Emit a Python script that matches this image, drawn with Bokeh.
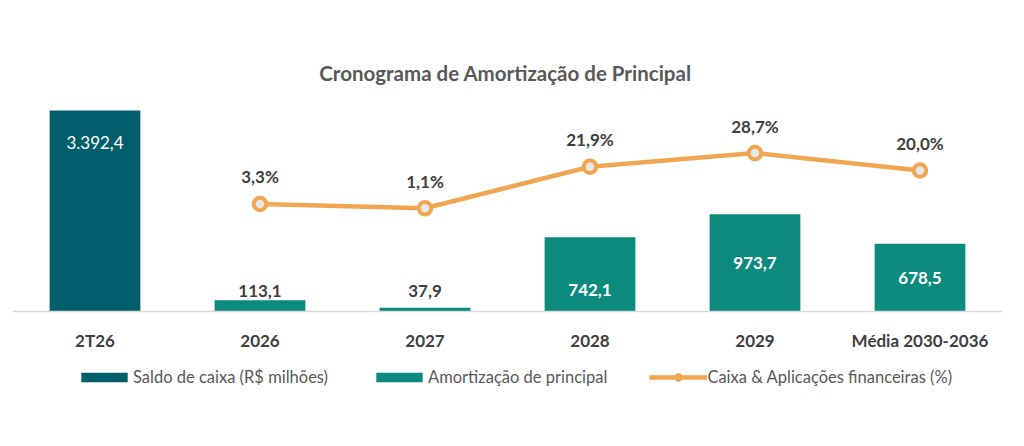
from bokeh.plotting import figure
from bokeh.models import (FactorRange, Range1d, ColumnDataSource, Legend, LegendItem, Label)
from bokeh.core.properties import value
from bokeh.embed import file_html
from bokeh.resources import INLINE

# ---- data ----
categories = ["2T26", "2026", "2027", "2028", "2029", "Média 2030-2036"]
saldo_cats = ["2T26"]
saldo_caixa = [3392.4]
amort_cats = ["2026", "2027", "2028", "2029", "Média 2030-2036"]
amortizacao = [113.1, 37.9, 742.1, 973.7, 678.5]
pct_cats = ["2026", "2027", "2028", "2029", "Média 2030-2036"]
pct_caixa = [3.3, 1.1, 21.9, 28.7, 20.0]

title_text = "Cronograma de Amortização de Principal"
legend_labels = ["Saldo de caixa (R$ milhões)", "Amortização de principal",
                 "Caixa & Aplicações financeiras (%)"]

# label placement tweaks (pixels), kept apart from the data
inside_label_shift = {"2028": -16}


def br(v, pct=False):
    s = f"{v:,.1f}".replace(",", "X").replace(".", ",").replace("X", ".")
    return s + ("%" if pct else "")


FONT = "Lato"
C_SALDO = "#015E6A"
C_AMORT = "#0B8A7D"
C_LINE = "#F0A650"
C_TEXT = "#404040"

H = 430
SALDO_PER_PX = 16.878

p = figure(width=1008, height=H, x_range=FactorRange(*categories, range_padding=0),
           y_range=Range1d(-1190, 3110), output_backend="svg", toolbar_location=None,
           title=None, y_axis_location=None, min_border_left=12, min_border_right=6,
           min_border_top=0, min_border_bottom=0)
p.extra_y_ranges = {"saldo": Range1d(-119 * SALDO_PER_PX, 311 * SALDO_PER_PX),
                    "pct": Range1d(-110, 105)}

p.xgrid.visible = False
p.ygrid.visible = False
p.outline_line_color = None
p.background_fill_color = "white"
p.border_fill_color = "white"

ax = p.xaxis[0]
ax.fixed_location = 0
ax.axis_line_color = "#D9D9D9"
ax.axis_line_width = 1.5
ax.major_tick_line_color = None
ax.minor_tick_line_color = None
ax.major_tick_out = 0
ax.major_tick_in = 0
ax.major_label_standoff = 18
ax.major_label_text_font = FONT
ax.major_label_text_font_size = "17px"
ax.major_label_text_font_style = "bold"
ax.major_label_text_color = C_TEXT

# title
p.add_layout(Label(x=493, y=H - 72, x_units="screen", y_units="screen",
                   text=title_text, text_align="center", text_baseline="middle",
                   text_font=FONT, text_font_size="20.5px", text_font_style="bold",
                   text_color="#595959"))

# bars
src_s = ColumnDataSource(dict(x=saldo_cats, y=saldo_caixa,
                              lab=[br(v) for v in saldo_caixa],
                              ly=[v - 32 * SALDO_PER_PX for v in saldo_caixa]))
r_saldo = p.vbar(x="x", top="y", width=0.55, source=src_s, y_range_name="saldo",
                 fill_color=C_SALDO, line_color=None)
p.text(x="x", y="ly", text="lab", source=src_s, y_range_name="saldo",
       text_align="center", text_baseline="middle", text_color="white",
       text_font=value(FONT), text_font_size="17px")

src_a = ColumnDataSource(dict(x=amort_cats, y=amortizacao,
                              lab=[br(v) for v in amortizacao]))
r_amort = p.vbar(x="x", top="y", width=0.55, source=src_a,
                 fill_color=C_AMORT, line_color=None)

# labels above the small bars, inside the large ones
small = [i for i, v in enumerate(amortizacao) if v < 300]
big = [i for i, v in enumerate(amortizacao) if v >= 300]
src_small = ColumnDataSource(dict(x=[amort_cats[i] for i in small],
                                  y=[amortizacao[i] for i in small],
                                  lab=[br(amortizacao[i]) for i in small]))
p.text(x="x", y=0, text="lab", source=src_small, text_align="center",
       text_baseline="middle", y_offset=-21, text_color=C_TEXT,
       text_font=value(FONT), text_font_size="17px", text_font_style="bold")
src_big = ColumnDataSource(dict(x=[amort_cats[i] for i in big],
                                y=[amortizacao[i] / 2 for i in big],
                                off=[-inside_label_shift.get(amort_cats[i], 0) for i in big],
                                lab=[br(amortizacao[i]) for i in big]))
p.text(x="x", y="y", text="lab", source=src_big, text_align="center",
       text_baseline="middle", y_offset="off", text_color="white",
       text_font=value(FONT), text_font_size="17px", text_font_style="bold")

# line
src_p = ColumnDataSource(dict(x=pct_cats, y=pct_caixa,
                              lab=[br(v, True) for v in pct_caixa]))
r_line = p.line(x="x", y="y", source=src_p, y_range_name="pct",
                line_color=C_LINE, line_width=4.5)
r_pts = p.scatter(x="x", y="y", source=src_p, y_range_name="pct", size=12.5,
                  fill_color="#E8E8E8", line_color=C_LINE, line_width=4)
p.text(x="x", y="y", text="lab", source=src_p, y_range_name="pct",
       text_align="center", text_baseline="middle", y_offset=-27,
       text_color=C_TEXT, text_font=value(FONT), text_font_size="17px",
       text_font_style="bold")

legend = Legend(items=[
    LegendItem(label=legend_labels[0], renderers=[r_saldo]),
    LegendItem(label=legend_labels[1], renderers=[r_amort]),
    LegendItem(label=legend_labels[2], renderers=[r_line, r_pts]),
], orientation="horizontal", location=(63, 43), glyph_width=58, glyph_height=12,
    label_text_font=FONT, label_text_font_size="16.5px", label_text_color="#595959",
    spacing=42, label_standoff=0, padding=0, margin=0, border_line_color=None,
    background_fill_alpha=0)
p.add_layout(legend)

open("out.html", "w").write(file_html(p, INLINE))
